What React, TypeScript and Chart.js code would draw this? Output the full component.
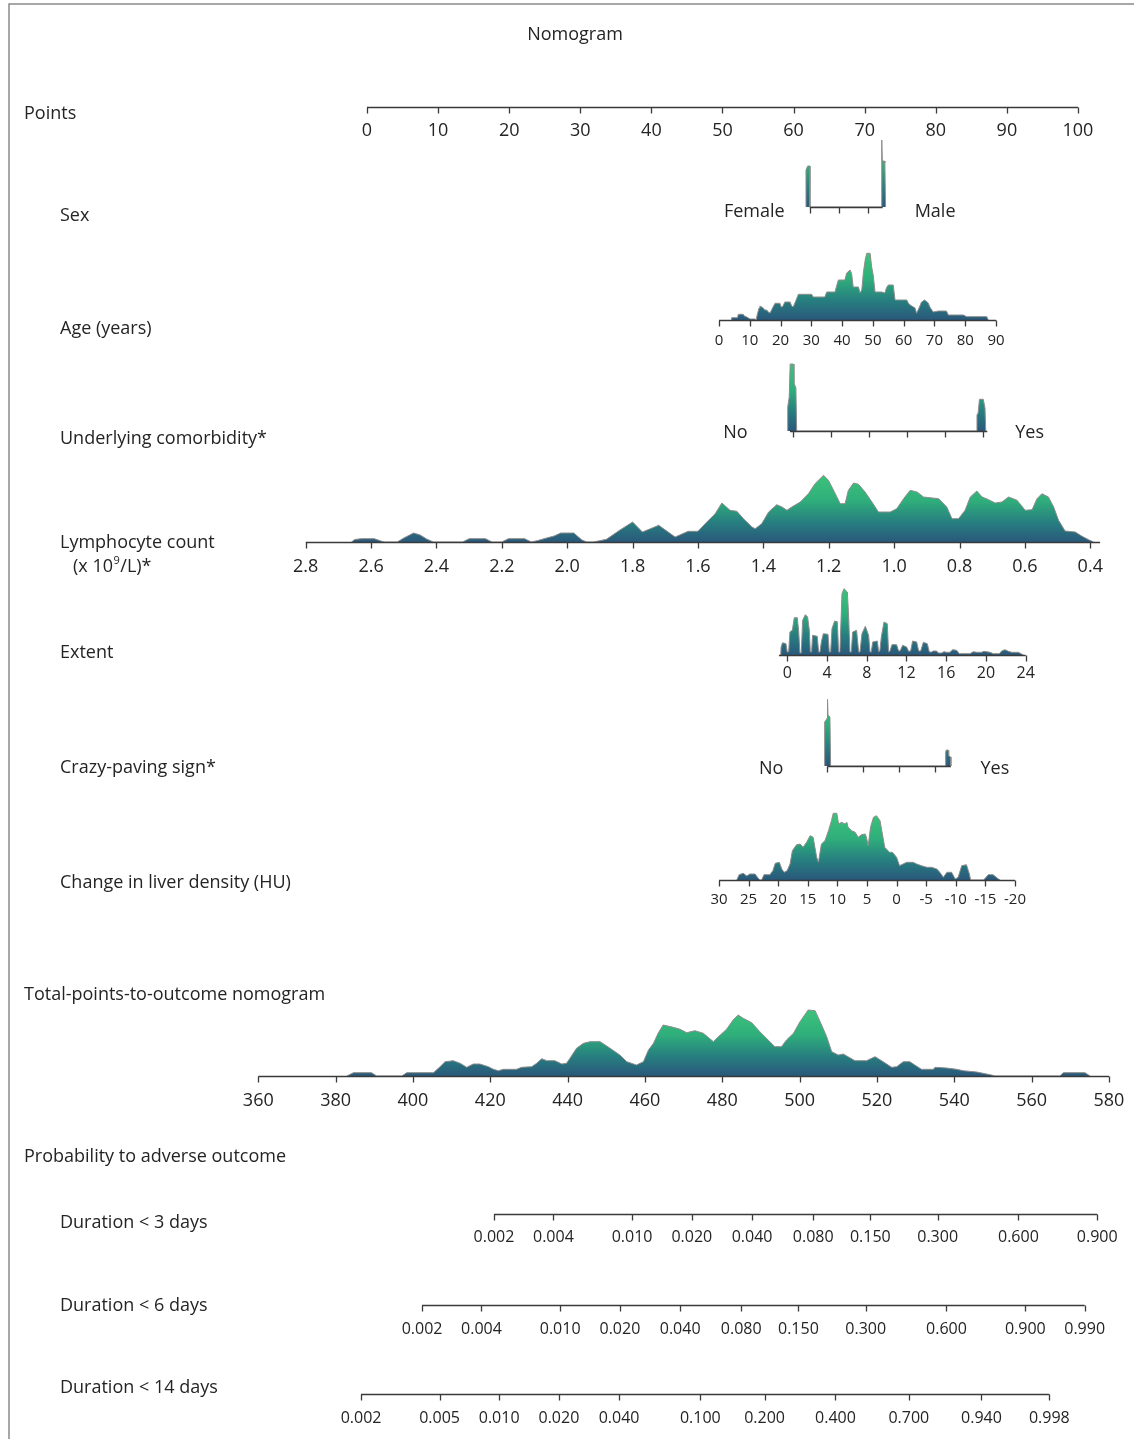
import React, { useEffect, useRef } from "react";
import { Chart, registerables } from "chart.js";

Chart.register(...registerables);

// ---------------- Data ----------------
const pointsTicks = [0, 10, 20, 30, 40, 50, 60, 70, 80, 90, 100];

const sexCategories = ["Female", "Male"];
const sexTicks = [0, 0.4, 0.8];
const sexDensity: [number, number][] = [
  [-0.05, 0], [-0.05, 37], [-0.027, 41], [0.004, 41], [0.004, 0],
  [0.985, 0], [0.985, 67], [0.99, 67], [0.995, 46], [1.025, 46], [1.03, 44], [1.04, 0],
];

const ageTicks = [0, 10, 20, 30, 40, 50, 60, 70, 80, 90];
const ageDensity: [number, number][] = [
  [4.0, 0], [4.1, 2.3], [6.0, 2.3], [6.3, 5.7], [7.9, 5.7], [8.2, 4], [9.0, 3], [10.1, 1], [11.7, 1], [12.1, 0],
  [12.4, 5], [13.0, 12], [13.3, 14], [14.4, 12], [14.8, 10], [15.5, 10], [16.0, 8], [16.6, 7], [17.4, 12],
  [18.2, 16.7], [19.8, 16.7], [20.2, 13], [20.6, 13], [21.1, 16], [21.4, 18], [23.1, 18], [23.6, 14], [24.1, 13],
  [24.8, 18], [25.8, 25.7], [30.1, 25.7], [30.6, 23], [34.4, 23], [35.0, 28], [37.7, 28], [38.3, 35], [38.8, 40],
  [40.9, 40], [41.5, 47], [42.6, 50], [43.1, 46], [43.6, 33], [45.3, 33], [45.8, 27], [46.4, 30], [46.9, 47],
  [47.5, 60], [48.0, 66.7], [49.1, 66.7], [49.6, 53], [50.1, 45], [50.7, 28], [52.9, 28], [53.9, 27], [54.4, 32],
  [55.0, 35], [56.6, 35], [57.2, 20], [61.0, 20], [61.5, 17], [62.1, 15], [63.7, 12], [64.2, 6.7], [65.0, 12],
  [65.8, 18], [66.8, 20], [68.0, 17], [68.5, 13], [69.6, 8], [71.3, 9], [73.9, 9], [74.5, 5], [79.4, 5],
  [80.5, 3.3], [87.0, 3.3], [87.5, 0],
];

const comorbidityCategories = ["No", "Yes"];
const comorbidityTicks = [0, 0.2, 0.4, 0.6, 0.8, 1.0];
const comorbidityDensity: [number, number][] = [
  [-0.026, 0], [-0.026, 24], [-0.018, 34], [-0.013, 67], [0.003, 67], [0.007, 48], [0.017, 43], [0.021, 0],
  [0.967, 0], [0.967, 16], [0.973, 18], [0.98, 31.7], [1.0, 31.7], [1.009, 23], [1.013, 0],
];

const lymphocyteTicks = [2.8, 2.6, 2.4, 2.2, 2.0, 1.8, 1.6, 1.4, 1.2, 1.0, 0.8, 0.6, 0.4];
const lymphocyteDensity: [number, number][] = [
  [2.66, 0], [2.65, 2.5], [2.63, 3.3], [2.59, 3.3], [2.57, 1], [2.56, 0], [2.52, 0], [2.5, 4], [2.47, 9],
  [2.45, 7], [2.43, 3], [2.41, 0], [2.32, 0], [2.3, 3.3], [2.25, 3.3], [2.23, 0], [2.2, 0], [2.18, 3.3],
  [2.13, 3.3], [2.11, 0], [2.09, 1.5], [2.06, 4.3], [2.04, 6], [2.02, 9], [1.98, 9], [1.955, 2], [1.94, 0],
  [1.92, 0], [1.88, 2.7], [1.84, 11.7], [1.8, 20], [1.77, 10], [1.72, 16.7], [1.67, 5], [1.63, 10.7],
  [1.6, 10.7], [1.573, 20], [1.548, 28], [1.527, 39], [1.502, 31.7], [1.481, 30.7], [1.461, 23.3],
  [1.435, 15], [1.425, 13.3], [1.405, 18.3], [1.384, 30], [1.359, 37.3], [1.343, 35], [1.328, 31.7],
  [1.313, 35], [1.287, 40], [1.262, 48.3], [1.242, 58.3], [1.216, 66.7], [1.201, 61.7], [1.18, 48.3],
  [1.165, 38.3], [1.15, 38.3], [1.14, 51.7], [1.124, 59], [1.109, 57.7], [1.089, 50], [1.068, 40],
  [1.048, 30], [1.012, 30], [0.992, 33.3], [0.971, 43.3], [0.951, 51.7], [0.93, 50], [0.91, 45],
  [0.864, 43.3], [0.839, 35], [0.823, 23.3], [0.803, 23.3], [0.783, 31.7], [0.767, 45], [0.747, 51],
  [0.731, 45], [0.711, 42.3], [0.691, 39], [0.67, 40], [0.65, 45], [0.624, 41.7], [0.599, 31.7],
  [0.578, 32.3], [0.563, 43.3], [0.548, 48.3], [0.528, 45], [0.512, 35], [0.497, 21.7], [0.477, 11],
  [0.446, 10], [0.425, 5.7], [0.405, 2.3], [0.39, 0],
];

const extentTicks = [0, 4, 8, 12, 16, 20, 24];
const extentDensity: [number, number][] = [
  [-0.66, 0], [-0.62, 8], [-0.47, 12.3], [-0.13, 11.3], [0.0, 3], [0.14, 3], [0.27, 23], [0.51, 24.7],
  [0.71, 37.3], [1.01, 37.3], [1.14, 24.7], [1.28, 2], [1.41, 2], [1.55, 34.7], [1.82, 40.3], [2.05, 38],
  [2.22, 24.7], [2.32, 3], [2.45, 3], [2.55, 19.7], [3.02, 18.7], [3.16, 3], [3.29, 3], [3.43, 13],
  [3.63, 21.3], [4.1, 20.7], [4.23, 3], [4.37, 3], [4.5, 26.3], [4.77, 34], [5.04, 33.3], [5.17, 3],
  [5.3, 3], [5.51, 61.3], [5.71, 66.3], [6.05, 63], [6.18, 38], [6.31, 3], [6.45, 3], [6.58, 23],
  [6.98, 24.7], [7.19, 3], [7.32, 3], [7.52, 21.3], [7.86, 28.7], [8.19, 19.7], [8.33, 3], [8.46, 3],
  [8.6, 13], [9.07, 14], [9.2, 3], [9.33, 4.7], [9.47, 18], [9.74, 33], [10.07, 31.3], [10.2, 3],
  [10.34, 4], [10.54, 10.3], [11.01, 10.3], [11.21, 4], [11.35, 4], [11.62, 9.7], [12.02, 8], [12.22, 3.7],
  [12.42, 4], [12.62, 14], [13.03, 13], [13.23, 4], [13.43, 4], [13.7, 12.7], [14.1, 11.3], [14.3, 3],
  [14.54, 3], [14.71, 4], [15.04, 4], [15.21, 2], [15.54, 2], [15.78, 3.3], [16.04, 2.7], [16.38, 2.7],
  [16.65, 5.3], [17.05, 4.7], [17.32, 1.3], [18.39, 1.3], [18.73, 3.3], [19.07, 2.7], [19.57, 2.7],
  [19.81, 3.7], [20.41, 2.7], [20.75, 1.3], [21.35, 1.3], [21.58, 4], [21.92, 5.3], [22.26, 3.7],
  [22.6, 2.7], [23.27, 2.7], [23.77, 0],
];

const crazyPavingCategories = ["No", "Yes"];
const crazyPavingTicks = [0, 0.3, 0.6, 0.9];
const crazyPavingDensity: [number, number][] = [
  [-0.022, 0], [-0.022, 44], [-0.01, 46], [0.0, 48], [0.0, 66.7], [0.004, 66.7], [0.006, 51], [0.022, 49],
  [0.028, 0], [0.985, 0], [0.985, 14], [0.99, 16], [1.005, 16], [1.01, 10], [1.028, 9], [1.028, 0],
];

const liverTicks = [30, 25, 20, 15, 10, 5, 0, -5, -10, -15, -20];
const liverDensity: [number, number][] = [
  [27.0, 0], [26.6, 5.3], [25.9, 6.7], [25.3, 4], [24.8, 6], [23.9, 6], [23.5, 2.7], [23.1, 0], [22.8, 0],
  [22.4, 5.3], [21.4, 5.3], [20.9, 9.3], [20.5, 16.7], [19.8, 17.7], [19.4, 11], [19.0, 7.7], [18.5, 9.3],
  [18.0, 16], [17.6, 29.3], [16.9, 35.3], [16.3, 36], [15.8, 32.7], [15.2, 37.7], [14.6, 44.3], [14.1, 42.7],
  [13.8, 32.7], [13.5, 22.7], [13.2, 17.7], [12.7, 36], [12.1, 39.3], [11.5, 49.3], [11.0, 59.3],
  [10.7, 66.7], [10.1, 66.7], [9.8, 56], [9.3, 57.7], [8.7, 56], [8.4, 57.7], [8.2, 52.7], [7.6, 49.3],
  [7.0, 47.7], [6.5, 42.7], [5.9, 45.3], [5.3, 46], [5.1, 42.7], [4.8, 34.3], [4.4, 52.7], [3.9, 62.7],
  [3.4, 64.3], [2.8, 59.3], [2.5, 49.3], [2.0, 32.7], [1.2, 27.7], [0.7, 27.7], [0.0, 22.7], [-0.5, 14.3],
  [-1.1, 16], [-1.7, 17.7], [-2.8, 17.7], [-3.4, 16], [-4.2, 14.3], [-5.1, 12.7], [-5.9, 12.7], [-6.8, 11],
  [-7.3, 7.7], [-7.9, 2.7], [-8.5, 7.7], [-9.3, 7.7], [-9.9, 1], [-10.4, 2.7], [-11.0, 14.3], [-11.8, 15.3],
  [-12.3, 6], [-12.5, 0], [-14.7, 0], [-15.5, 5.3], [-16.3, 5.3], [-17.2, 1], [-17.5, 0],
];

const totalPointsTicks = [360, 380, 400, 420, 440, 460, 480, 500, 520, 540, 560, 580];
const totalPointsDensity: [number, number][] = [
  [382.9, 0], [384.6, 3.3], [389.3, 3.3], [390.6, 0], [397.1, 0], [398.4, 3.3], [405.3, 3.3], [407.0, 9.3],
  [408.3, 14.3], [410.4, 15.3], [412.2, 12.7], [413.9, 8.7], [415.6, 12], [417.3, 12], [419.5, 9.3],
  [420.8, 6.7], [422.1, 5.3], [423.4, 6.7], [426.8, 6.7], [428.1, 8.7], [430.7, 9.3], [432.0, 12.7],
  [433.3, 17.3], [434.6, 15.3], [436.7, 15.3], [438.5, 12], [439.7, 12.7], [440.6, 17.7], [442.3, 27.7],
  [444.1, 32.7], [445.8, 34.3], [448.4, 34.3], [451.0, 27.7], [453.5, 21], [455.3, 14.3], [457.8, 11],
  [459.6, 14.3], [460.9, 26], [462.2, 32.7], [463.4, 42.7], [464.7, 51], [467.3, 48.7], [469.1, 46.7],
  [470.8, 43.3], [472.9, 45.3], [475.1, 42.7], [477.7, 34.3], [479.0, 39.3], [481.1, 46.7], [482.8, 56],
  [484.1, 61], [485.4, 57.7], [487.6, 53.3], [489.7, 44.3], [492.3, 34.3], [493.6, 29.3], [495.3, 29.3],
  [496.6, 36], [498.4, 42.7], [500.1, 54.3], [502.2, 66], [504.0, 65.3], [505.3, 54.3], [507.0, 39.3],
  [508.3, 24.3], [510.0, 21], [511.3, 22], [514.3, 15.3], [517.3, 15.3], [519.5, 19.3], [521.6, 14.3],
  [523.8, 8.7], [525.1, 9.3], [526.8, 14.3], [528.5, 14.3], [529.8, 11], [531.5, 6.7], [534.6, 6.7],
  [535.0, 8.7], [538.0, 8], [540.6, 6.7], [542.3, 5.3], [545.8, 4], [549.6, 1], [550.5, 0], [567.3, 0],
  [568.2, 3.3], [573.8, 3.3], [575.1, 0],
];

const prob3Ticks = [0.002, 0.004, 0.01, 0.02, 0.04, 0.08, 0.15, 0.3, 0.6, 0.9];
const prob6Ticks = [0.002, 0.004, 0.01, 0.02, 0.04, 0.08, 0.15, 0.3, 0.6, 0.9, 0.99];
const prob14Ticks = [0.002, 0.005, 0.01, 0.02, 0.04, 0.1, 0.2, 0.4, 0.7, 0.94, 0.998];

// ---------------- Layout / style ----------------
const W = 1134;
const H = 1439;
const X_MIN = -51.62; // nomogram points at left canvas edge
const X_MAX = 107.88; // nomogram points at right canvas edge
const FONT = '"Open Sans", "Noto Sans", sans-serif';
const TEXT = "#242424";
const AXIS = "#3a3a3a";
const TEXT_DY = 2; // visual centring of canvas text

const lin = (v0: number, p0: number, v1: number, p1: number) => (v: number) =>
  p0 + ((v - v0) * (p1 - p0)) / (v1 - v0);
const cloglog = (p: number) => Math.log(-Math.log(1 - p));
const probMap = (p0: number, slope: number) => (p: number) => p0 + slope * (cloglog(p) - cloglog(0.002));

type Row = {
  y: number;
  map: (v: number) => number;
  line: [number, number];
  ticks: number[];
  tickText?: (v: number) => string;
  labelY?: number;
  font?: number;
  density?: [number, number][];
  cats?: { text: string; v: number; side: "left" | "right"; gap: number; y: number }[];
};

const rows: Row[] = [
  { y: 107, map: lin(0, 0, 100, 100), line: [0, 100], ticks: pointsTicks, tickText: (v) => String(v), labelY: 129, font: 18 },
  {
    y: 207, map: lin(0, 62.26, 1, 72.53), line: [0, 1], ticks: sexTicks, density: sexDensity,
    cats: [
      { text: sexCategories[0], v: 0, side: "left", gap: 25, y: 210 },
      { text: sexCategories[1], v: 1, side: "right", gap: 32, y: 210 },
    ],
  },
  { y: 320, map: lin(0, 49.51, 90, 88.47), line: [0, 90], ticks: ageTicks, tickText: (v) => String(v), labelY: 339, font: 15, density: ageDensity },
  {
    y: 431, map: lin(0, 59.87, 1, 86.68), line: [-0.014, 1.021], ticks: comorbidityTicks, density: comorbidityDensity,
    cats: [
      { text: comorbidityCategories[0], v: 0, side: "left", gap: 45, y: 431 },
      { text: comorbidityCategories[1], v: 1, side: "right", gap: 32, y: 431 },
    ],
  },
  { y: 542, map: lin(2.8, -8.62, 0.4, 101.73), line: [2.8, 0.37], ticks: lymphocyteTicks, tickText: (v) => v.toFixed(1), labelY: 565, font: 18, density: lymphocyteDensity },
  { y: 655, map: lin(0, 59.11, 24, 92.64), line: [-0.84, 24], ticks: extentTicks, tickText: (v) => String(v), labelY: 671, font: 16, density: extentDensity },
  {
    y: 766, map: lin(0, 64.74, 1, 81.65), line: [0, 1.028], ticks: crazyPavingTicks, density: crazyPavingDensity,
    cats: [
      { text: crazyPavingCategories[0], v: 0, side: "left", gap: 44, y: 767 },
      { text: crazyPavingCategories[1], v: 1, side: "right", gap: 33, y: 767 },
    ],
  },
  { y: 880, map: lin(30, 49.51, -20, 91.14), line: [30, -20], ticks: liverTicks, tickText: (v) => String(v), labelY: 898, font: 15, density: liverDensity },
  { y: 1076, map: lin(360, -15.29, 580, 104.36), line: [360, 580], ticks: totalPointsTicks, tickText: (v) => String(v), labelY: 1099, font: 18, density: totalPointsDensity },
  { y: 1214, map: probMap(17.86, 12.04), line: [0.002, 0.9], ticks: prob3Ticks, tickText: (v) => v.toFixed(3), labelY: 1235, font: 16 },
  { y: 1305, map: probMap(7.74, 12.04), line: [0.002, 0.99], ticks: prob6Ticks, tickText: (v) => v.toFixed(3), labelY: 1327, font: 16 },
  { y: 1394, map: probMap(-0.84, 12.04), line: [0.002, 0.998], ticks: prob14Ticks, tickText: (v) => v.toFixed(3), labelY: 1416, font: 16 },
];

const rowLabels: { text: string; x: number; y: number }[] = [
  { text: "Points", x: 24, y: 112 },
  { text: "Sex", x: 60, y: 214 },
  { text: "Age (years)", x: 60, y: 327 },
  { text: "Underlying comorbidity*", x: 60, y: 437 },
  { text: "Lymphocyte count", x: 60, y: 541 },
  { text: "Extent", x: 60, y: 651 },
  { text: "Crazy-paving sign*", x: 60, y: 766 },
  { text: "Change in liver density (HU)", x: 60, y: 881 },
  { text: "Total-points-to-outcome nomogram", x: 24, y: 993 },
  { text: "Probability to adverse outcome", x: 24, y: 1155 },
  { text: "Duration < 3 days", x: 60, y: 1221 },
  { text: "Duration < 6 days", x: 60, y: 1304 },
  { text: "Duration < 14 days", x: 60, y: 1386 },
];

const nomogramPlugin = {
  id: "nomogramAxes",
  afterDatasetsDraw(chart: any) {
    const ctx: CanvasRenderingContext2D = chart.ctx;
    const xs = chart.scales.x;
    const ys = chart.scales.y;
    const X = (p: number) => xs.getPixelForValue(p);
    const Y = (v: number) => ys.getPixelForValue(v);
    const TY = (v: number) => Y(v) + TEXT_DY;
    ctx.save();

    // outer frame
    ctx.strokeStyle = "#8a8a8a";
    ctx.lineWidth = 1.5;
    ctx.beginPath();
    ctx.moveTo(9, H);
    ctx.lineTo(9, 4);
    ctx.lineTo(W, 4);
    ctx.stroke();

    ctx.fillStyle = TEXT;
    ctx.textBaseline = "middle";

    // title
    ctx.font = `18px ${FONT}`;
    ctx.textAlign = "center";
    ctx.fillText("Nomogram", 575, TY(33));

    // axes
    for (const row of rows) {
      const y = Math.round(Y(row.y)) + 0.5;
      ctx.strokeStyle = AXIS;
      ctx.lineWidth = 1.3;
      ctx.beginPath();
      ctx.moveTo(X(row.map(row.line[0])), y);
      ctx.lineTo(X(row.map(row.line[1])), y);
      for (const t of row.ticks) {
        const x = Math.round(X(row.map(t))) + 0.5;
        ctx.moveTo(x, y);
        ctx.lineTo(x, y + 6);
      }
      ctx.stroke();
      if (row.tickText && row.labelY !== undefined) {
        ctx.font = `${row.font}px ${FONT}`;
        ctx.textAlign = "center";
        for (const t of row.ticks) ctx.fillText(row.tickText(t), X(row.map(t)), TY(row.labelY));
      }
      if (row.cats) {
        ctx.font = `18px ${FONT}`;
        for (const c of row.cats) {
          const x = X(row.map(c.v));
          if (c.side === "left") {
            ctx.textAlign = "right";
            ctx.fillText(c.text, x - c.gap, TY(c.y));
          } else {
            ctx.textAlign = "left";
            ctx.fillText(c.text, x + c.gap, TY(c.y));
          }
        }
      }
    }

    // left labels
    ctx.font = `18px ${FONT}`;
    ctx.textAlign = "left";
    for (const l of rowLabels) ctx.fillText(l.text, l.x, TY(l.y));

    // "(x 10^9/L)*" with superscript
    let x = 73;
    const yy = TY(565);
    ctx.fillText("(x 10", x, yy);
    x += ctx.measureText("(x 10").width;
    ctx.font = `11px ${FONT}`;
    ctx.fillText("9", x + 0.5, yy - 6);
    x += ctx.measureText("9").width + 1;
    ctx.font = `18px ${FONT}`;
    ctx.fillText("/L)*", x, yy);

    ctx.restore();
  },
};

export default function App() {
  const ref = useRef<HTMLCanvasElement>(null);

  useEffect(() => {
    document.body.style.margin = "0";
    const canvas = ref.current;
    if (!canvas) return;

    const datasets = rows
      .filter((r) => r.density)
      .map((row) => {
        const dens = row.density as [number, number][];
        const peak = Math.max(...dens.map((d) => d[1]));
        return {
          data: dens.map(([v, h]) => ({ x: row.map(v), y: row.y - h })),
          borderColor: "#8c8c8c",
          borderWidth: 1,
          pointRadius: 0,
          tension: 0,
          fill: { value: row.y },
          backgroundColor: (c: any) => {
            const ch = c.chart;
            if (!ch.chartArea) return "#27877f";
            const ysc = ch.scales.y;
            const g = ch.ctx.createLinearGradient(0, ysc.getPixelForValue(row.y), 0, ysc.getPixelForValue(row.y - peak));
            g.addColorStop(0, "#2a587b");
            g.addColorStop(0.3, "#277f80");
            g.addColorStop(0.62, "#2fae7b");
            g.addColorStop(1, "#3cc37a");
            return g;
          },
        };
      });

    const chart = new Chart(canvas, {
      type: "line",
      data: { datasets } as any,
      options: {
        responsive: false,
        animation: false,
        devicePixelRatio: 1,
        layout: { padding: 0 },
        scales: {
          x: { type: "linear", min: X_MIN, max: X_MAX, display: false },
          y: { type: "linear", min: 0, max: H, reverse: true, display: false },
        },
        plugins: { legend: { display: false }, tooltip: { enabled: false } },
      },
      plugins: [nomogramPlugin],
    });
    return () => chart.destroy();
  }, []);

  return <canvas ref={ref} width={W} height={H} style={{ display: "block" }} />;
}
